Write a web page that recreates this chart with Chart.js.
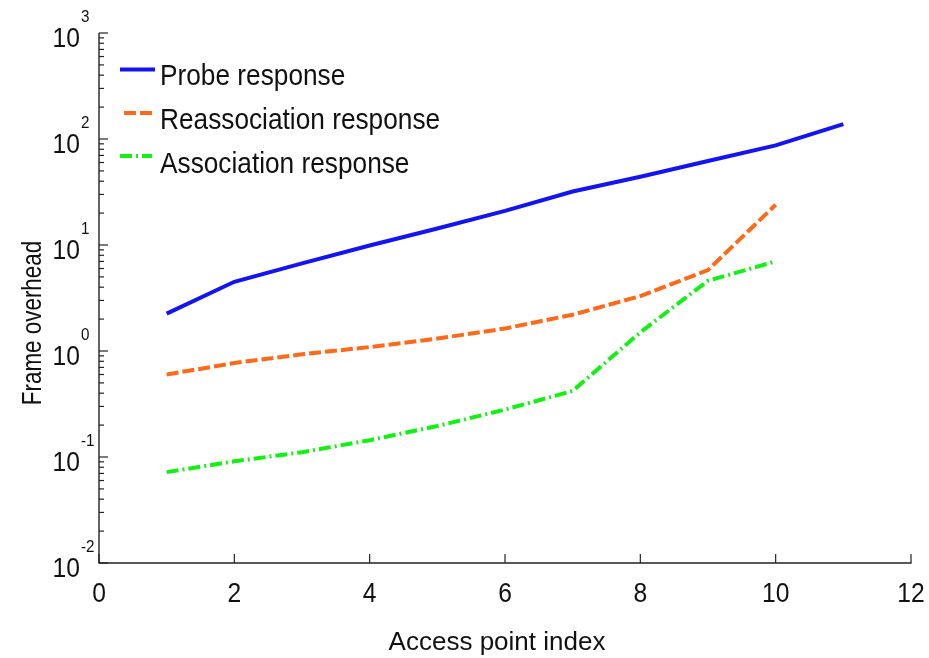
<!DOCTYPE html>
<html>
<head>
<meta charset="utf-8">
<script src="https://cdn.jsdelivr.net/npm/chart.js@4/dist/chart.umd.min.js"></script>
<style>
html,body{margin:0;padding:0;background:#fff;}
#wrap{width:929px;height:658px;}
</style>
</head>
<body>
<div id="wrap"><canvas id="c" width="929" height="658"></canvas></div>
<script>
// ---- data ----
const accessPoints = [1, 2, 3, 4, 5, 6, 7, 8, 9, 10, 11];
const probeResponse = [2.25, 4.5, 6.7, 9.9, 14.3, 21, 32, 44, 62, 87, 138];
const reassocResponse = [0.60, 0.77, 0.93, 1.09, 1.31, 1.63, 2.2, 3.3, 5.8, 24];
const assocResponse = [0.072, 0.091, 0.111, 0.144, 0.196, 0.28, 0.42, 1.5, 4.6, 7.0];
const seriesNames = ['Probe response', 'Reassociation response', 'Association response'];
const xTicks = [0, 2, 4, 6, 8, 10, 12];
const yExponents = [-2, -1, 0, 1, 2, 3];
const xTitle = 'Access point index';
const yTitle = 'Frame overhead';

const toPts = (vals) => vals.map((v, i) => ({x: accessPoints[i], y: v}));

const FONT = '"Liberation Sans", Arial, Helvetica, sans-serif';
const AXIS_COLOR = '#222';

const styles = [
  {color: '#1414f0', dash: []},
  {color: '#ff6a1a', dash: [12, 4]},
  {color: '#14f014', dash: [12, 4, 2, 4]}
];

function txt(ctx, s, x, y, size, align, sx, rot) {
  ctx.save();
  ctx.translate(x, y);
  if (rot) ctx.rotate(rot);
  ctx.scale(sx, 1);
  ctx.font = size + 'px ' + FONT;
  ctx.textAlign = align;
  ctx.fillText(s, 0, 0);
  ctx.restore();
}

const axesPlugin = {
  id: 'matlabAxes',
  afterDatasetsDraw(chart) {
    const ctx = chart.ctx;
    const xs = chart.scales.x, ys = chart.scales.y;
    const a = chart.chartArea;
    ctx.save();
    ctx.strokeStyle = AXIS_COLOR;
    ctx.lineWidth = 1.4;
    ctx.setLineDash([]);
    // axis lines
    ctx.beginPath();
    ctx.moveTo(a.left, a.top);
    ctx.lineTo(a.left, a.bottom);
    ctx.lineTo(a.right + 0.5, a.bottom);
    ctx.stroke();
    // x ticks (inward)
    ctx.lineWidth = 1.2;
    xTicks.forEach(t => {
      const px = xs.getPixelForValue(t);
      ctx.beginPath();
      ctx.moveTo(px, a.bottom);
      ctx.lineTo(px, a.bottom - 9);
      ctx.stroke();
    });
    // y ticks major + minor
    yExponents.forEach((e, idx) => {
      const py = ys.getPixelForValue(Math.pow(10, e));
      ctx.beginPath();
      ctx.moveTo(a.left, py);
      ctx.lineTo(a.left + 9, py);
      ctx.stroke();
      if (idx < yExponents.length - 1) {
        for (let m = 2; m <= 9; m++) {
          const pm = ys.getPixelForValue(m * Math.pow(10, e));
          ctx.beginPath();
          ctx.moveTo(a.left, pm);
          ctx.lineTo(a.left + 5, pm);
          ctx.stroke();
        }
      }
    });
    // tick labels
    ctx.fillStyle = '#111';
    ctx.textBaseline = 'alphabetic';
    xTicks.forEach(t => {
      txt(ctx, String(t), xs.getPixelForValue(t), 602, 28, 'center', 0.88);
    });
    yExponents.forEach(e => {
      const py = ys.getPixelForValue(Math.pow(10, e));
      txt(ctx, '10', 80, py + 14, 28, 'right', 0.88);
      txt(ctx, String(e), 81, py - 11, 16, 'left', 0.95);
    });
    // axis titles
    txt(ctx, xTitle, 497, 650, 26, 'center', 1.0);
    txt(ctx, yTitle, 41, 323, 27, 'center', 0.83, -Math.PI / 2);
    // legend
    const rows = [
      {y: 85, lx0: 120, lx1: 155, ly: 69.5},
      {y: 129, lx0: 124, lx1: 155, ly: 113},
      {y: 173, lx0: 120, lx1: 152, ly: 156}
    ];
    rows.forEach((r, i) => {
      ctx.strokeStyle = styles[i].color;
      ctx.lineWidth = 4;
      ctx.setLineDash(styles[i].dash);
      ctx.beginPath();
      ctx.moveTo(r.lx0, r.ly);
      ctx.lineTo(r.lx1, r.ly);
      ctx.stroke();
      ctx.setLineDash([]);
      ctx.fillStyle = '#111';
      txt(ctx, seriesNames[i], 160, r.y, 29, 'left', 0.905);
    });
    ctx.restore();
  }
};

const mk = (label, vals, s) => ({
  label, data: toPts(vals),
  borderColor: s.color, backgroundColor: s.color,
  borderWidth: 4, borderDash: s.dash, borderCapStyle: 'butt',
  pointRadius: 0, tension: 0, fill: false
});

new Chart(document.getElementById('c'), {
  type: 'line',
  data: {
    datasets: [
      mk(seriesNames[0], probeResponse, styles[0]),
      mk(seriesNames[1], reassocResponse, styles[1]),
      mk(seriesNames[2], assocResponse, styles[2])
    ]
  },
  options: {
    responsive: false,
    animation: false,
    layout: {padding: {left: 99, right: 18, top: 33, bottom: 95}},
    plugins: {legend: {display: false}, tooltip: {enabled: false}},
    scales: {
      x: {type: 'linear', min: 0, max: 12, display: false},
      y: {type: 'logarithmic', min: 0.01, max: 1000, display: false}
    }
  },
  plugins: [axesPlugin]
});
</script>
</body>
</html>
